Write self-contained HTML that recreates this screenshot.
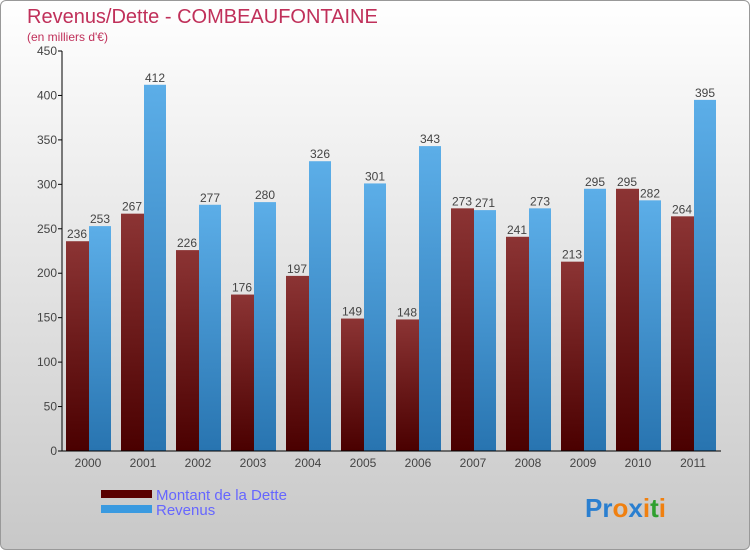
<!DOCTYPE html>
<html><head><meta charset="utf-8"><style>
body{margin:0;width:750px;height:550px;overflow:hidden;font-family:"Liberation Sans",sans-serif}
#c{position:absolute;left:0;top:0;width:748px;height:548px;border:1px solid #999;border-radius:6px;background:linear-gradient(#fff,#c8c8c8)}
</style></head><body>
<div id="c">
<svg id="svg" width="750" height="550" xmlns="http://www.w3.org/2000/svg">
<defs>
<linearGradient id="gr" x1="0" y1="0" x2="0" y2="1"><stop offset="0" stop-color="#8c3434"/><stop offset="1" stop-color="#4a0000"/></linearGradient>
<linearGradient id="gb" x1="0" y1="0" x2="0" y2="1"><stop offset="0" stop-color="#5caee8"/><stop offset="1" stop-color="#2874b0"/></linearGradient>
</defs>
<text x="26" y="22" font-size="20" fill="#c0305a">Revenus/Dette - COMBEAUFONTAINE</text>
<text x="26" y="40" font-size="12" fill="#c0305a">(en milliers d'€)</text>
<g id="grid"></g><g id="bars"></g><g id="axes"></g>
<rect x="100" y="489" width="51" height="8" fill="#5a0000"/>
<rect x="100" y="504" width="51" height="8" fill="#3a9ae0"/>
<text x="155" y="499" font-size="15" fill="#6666ff">Montant de la Dette</text>
<text x="155" y="514" font-size="15" fill="#6666ff">Revenus</text>
<text x="584" y="516" font-size="26" font-weight="bold"><tspan fill="#2a7fd0">Pr</tspan><tspan fill="#f08010">o</tspan><tspan fill="#2a7fd0">x</tspan><tspan fill="#f08010">i</tspan><tspan fill="#30a030">t</tspan><tspan fill="#f08010">i</tspan></text>
</svg></div>
<script>
const years=["2000","2001","2002","2003","2004","2005","2006","2007","2008","2009","2010","2011"];
const dette=[236,267,226,176,197,149,148,273,241,213,295,264];
const revenus=[253,412,277,280,326,301,343,271,273,295,282,395];
const ticks=[0,50,100,150,200,250,300,350,400,450];
const NS="http://www.w3.org/2000/svg";
const y0=450,yTop=50,vmax=450,axX=61,axEnd=720,x0=65,step=55;
const y=v=>y0-(v/vmax)*(y0-yTop);
const xg=i=>x0+i*step;
function mk(t,a,p){const e=document.createElementNS(NS,t);for(const k in a)e.setAttribute(k,a[k]);p.appendChild(e);return e;}
const bars=document.getElementById('bars'),axes=document.getElementById('axes');
years.forEach((yr,i)=>{
 const r=mk('rect',{x:xg(i),y:y(dette[i]),width:23,height:y0-y(dette[i]),fill:'url(#gr)'},bars);
 
 
 const b=mk('rect',{x:xg(i)+23,y:y(revenus[i]),width:22,height:y0-y(revenus[i]),fill:'url(#gb)'},bars);
 
 
 const t1=mk('text',{x:xg(i)+11,y:y(dette[i])-3,'font-size':12,fill:'#444','text-anchor':'middle'},bars);t1.textContent=dette[i];
 
 
 const t2=mk('text',{x:xg(i)+34,y:y(revenus[i])-3,'font-size':12,fill:'#444','text-anchor':'middle'},bars);t2.textContent=revenus[i];
 
 
 const xl=mk('text',{x:xg(i)+22,y:466,'font-size':12,fill:'#444','text-anchor':'middle'},axes);xl.textContent=yr;
 
 
});
ticks.forEach(v=>{
 mk('line',{x1:axX-4,x2:axX,y1:y(v),y2:y(v),stroke:'#000'},axes);
 const t=mk('text',{x:axX-5,y:y(v)+4,'font-size':12,fill:'#444','text-anchor':'end'},axes);t.textContent=v;
 
 
});
const ya=mk('line',{x1:axX,x2:axX,y1:yTop,y2:y0,stroke:'#000'},axes);


const xa=mk('line',{x1:axX,x2:axEnd,y1:y0,y2:y0,stroke:'#000'},axes);


</script>
</body></html>
